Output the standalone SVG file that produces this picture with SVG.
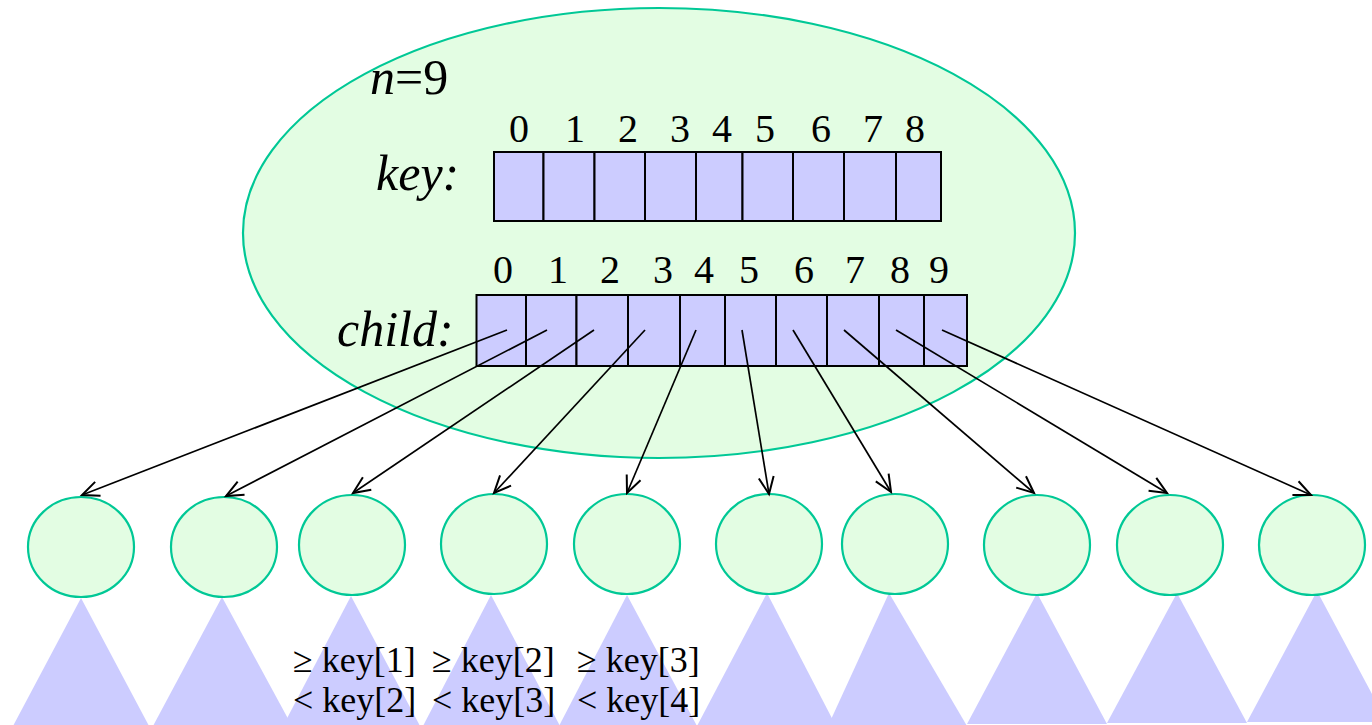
<svg xmlns="http://www.w3.org/2000/svg" width="1372" height="725" viewBox="0 0 1372 725">
<defs>
<style>
.node{fill:#E3FDE3;stroke:#00C896;stroke-width:2.2}
.cell{fill:#CCCCFF;stroke:#000;stroke-width:2}
.tri{fill:#CCCCFF;stroke:none}
.num{font-family:"Liberation Serif","Times New Roman",serif;font-size:40px;fill:#000;text-anchor:middle}
.lbl{font-family:"Liberation Serif","Times New Roman",serif;font-size:50px;font-style:italic;fill:#000}
.cond{font-family:"Liberation Serif","Times New Roman",serif;font-size:36px;fill:#000}
.conn line{stroke:#000;stroke-width:1.7;marker-end:url(#arr)}
</style>
<marker id="arr" markerUnits="userSpaceOnUse" markerWidth="24" markerHeight="24" viewBox="-20 -10 24 20" refX="0" refY="0" orient="auto">
<path d="M-17,-7.5 L0,0 L-17,7.5" fill="none" stroke="#000" stroke-width="2"/>
</marker>
</defs>
<rect width="1372" height="725" fill="#fff"/>

<g id="root">
<ellipse class="node" cx="659" cy="233" rx="416" ry="225"/>
<text x="370" y="94" font-family="Liberation Serif, serif" font-size="50"><tspan font-style="italic">n</tspan>=9</text>
<text class="lbl" x="376" y="190">key:</text>
<g id="keyArray">
<rect class="cell" x="494" y="152" width="49.5" height="69"/>
<rect class="cell" x="543.5" y="152" width="51" height="69"/>
<rect class="cell" x="594.5" y="152" width="50.5" height="69"/>
<rect class="cell" x="645" y="152" width="51" height="69"/>
<rect class="cell" x="696" y="152" width="46.5" height="69"/>
<rect class="cell" x="742.5" y="152" width="50.5" height="69"/>
<rect class="cell" x="793" y="152" width="51" height="69"/>
<rect class="cell" x="844" y="152" width="52" height="69"/>
<rect class="cell" x="896" y="152" width="45" height="69"/>
</g>
<g id="keyIdx">
<text class="num" x="519" y="142">0</text>
<text class="num" x="575" y="142">1</text>
<text class="num" x="628" y="142">2</text>
<text class="num" x="680" y="142">3</text>
<text class="num" x="722" y="142">4</text>
<text class="num" x="765" y="142">5</text>
<text class="num" x="821" y="142">6</text>
<text class="num" x="873" y="142">7</text>
<text class="num" x="915" y="142">8</text>
</g>
<text class="lbl" x="337" y="346">child:</text>
<g id="childArray">
<rect class="cell" x="476.5" y="295" width="49.5" height="71"/>
<rect class="cell" x="526" y="295" width="50.5" height="71"/>
<rect class="cell" x="576.5" y="295" width="51.5" height="71"/>
<rect class="cell" x="628" y="295" width="52" height="71"/>
<rect class="cell" x="680" y="295" width="45" height="71"/>
<rect class="cell" x="725" y="295" width="51" height="71"/>
<rect class="cell" x="776" y="295" width="51" height="71"/>
<rect class="cell" x="827" y="295" width="52" height="71"/>
<rect class="cell" x="879" y="295" width="45" height="71"/>
<rect class="cell" x="924" y="295" width="43" height="71"/>
</g>
<g id="childIdx">
<text class="num" x="503" y="283">0</text>
<text class="num" x="558" y="283">1</text>
<text class="num" x="610" y="283">2</text>
<text class="num" x="663" y="283">3</text>
<text class="num" x="704" y="283">4</text>
<text class="num" x="749" y="283">5</text>
<text class="num" x="804" y="283">6</text>
<text class="num" x="855" y="283">7</text>
<text class="num" x="900" y="283">8</text>
<text class="num" x="939" y="283">9</text>
</g>
</g>

<g id="subtrees">
<polygon class="tri" points="81,598 13,726 149,726"/>
<polygon class="tri" points="222,597 153,726 292,726"/>
<polygon class="tri" points="351,596 283,726 420,726"/>
<polygon class="tri" points="491,595 423,726 560,726"/>
<polygon class="tri" points="627,595 559,726 697,726"/>
<polygon class="tri" points="767,593 697,726 836,726"/>
<polygon class="tri" points="889,593 828,726 967,726"/>
<polygon class="tri" points="1037,593 967,724 1107,724"/>
<polygon class="tri" points="1177,593 1107,723 1247,723"/>
<polygon class="tri" points="1317,591 1247,722 1387,722"/>
</g>

<g id="child0"><ellipse class="node" cx="81" cy="547" rx="53" ry="50"/></g>
<g id="child1"><ellipse class="node" cx="224" cy="547" rx="53" ry="50"/></g>
<g id="child2"><ellipse class="node" cx="352" cy="545" rx="53" ry="50"/></g>
<g id="child3"><ellipse class="node" cx="494" cy="544" rx="53" ry="50"/></g>
<g id="child4"><ellipse class="node" cx="627" cy="544" rx="53" ry="50"/></g>
<g id="child5"><ellipse class="node" cx="769" cy="544" rx="53" ry="50"/></g>
<g id="child6"><ellipse class="node" cx="895" cy="544" rx="53" ry="50"/></g>
<g id="child7"><ellipse class="node" cx="1037" cy="545" rx="53" ry="50"/></g>
<g id="child8"><ellipse class="node" cx="1170" cy="545" rx="53" ry="50"/></g>
<g id="child9"><ellipse class="node" cx="1312" cy="545" rx="53" ry="50"/></g>

<g id="connectors" class="conn">
<line x1="507" y1="330" x2="82" y2="495"/>
<line x1="547" y1="330" x2="226" y2="496"/>
<line x1="594" y1="330" x2="353" y2="493"/>
<line x1="645" y1="330" x2="494" y2="493"/>
<line x1="696" y1="330" x2="627" y2="493"/>
<line x1="742" y1="330" x2="769" y2="494"/>
<line x1="793" y1="330" x2="891" y2="492"/>
<line x1="844" y1="330" x2="1034" y2="493"/>
<line x1="896" y1="330" x2="1167" y2="493"/>
<line x1="942" y1="330" x2="1311" y2="495"/>
</g>

<g id="conditions">
<text class="cond" x="293" y="672">≥ key[1]</text>
<text class="cond" x="432" y="672">≥ key[2]</text>
<text class="cond" x="577" y="672">≥ key[3]</text>
<text class="cond" x="293" y="712">&lt; key[2]</text>
<text class="cond" x="432" y="712">&lt; key[3]</text>
<text class="cond" x="577" y="712">&lt; key[4]</text>
</g>
</svg>
